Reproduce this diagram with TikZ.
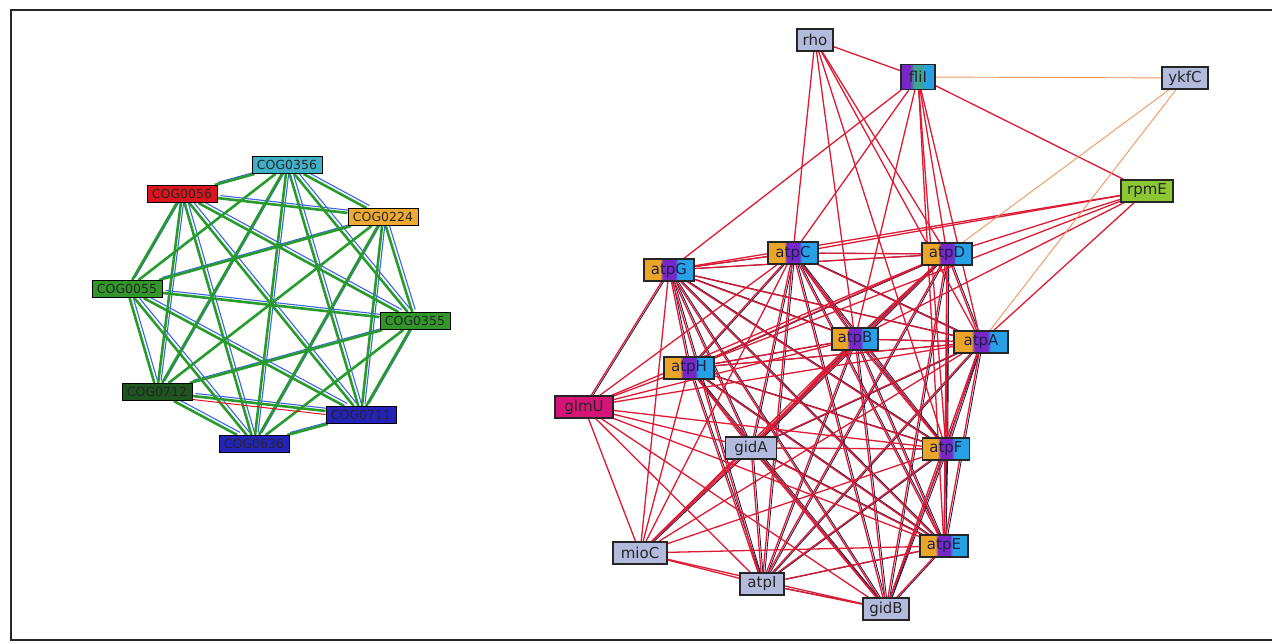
\documentclass[tikz,border=0pt]{standalone}
\usepackage{fontspec}
\setsansfont{DejaVu Sans}
\usetikzlibrary{backgrounds}

\definecolor{cogcyan}{RGB}{64,176,200}
\definecolor{cogred}{RGB}{220,20,30}
\definecolor{cogorange}{RGB}{240,170,50}
\definecolor{coggreen}{RGB}{50,150,40}
\definecolor{cogdark}{RGB}{30,85,30}
\definecolor{cogblue}{RGB}{35,35,185}
\definecolor{greenline}{RGB}{40,155,45}
\definecolor{blueline}{RGB}{60,100,230}
\definecolor{lav}{RGB}{178,186,222}
\definecolor{glmufill}{RGB}{214,20,120}
\definecolor{rpmefill}{RGB}{140,200,50}
\definecolor{atporange}{RGB}{235,165,40}
\definecolor{atppurple}{RGB}{120,40,200}
\definecolor{atpcyan}{RGB}{40,160,230}
\definecolor{fliteal}{RGB}{60,165,150}
\definecolor{netred}{RGB}{222,25,50}
\definecolor{netnavy}{RGB}{30,30,75}
\definecolor{netorange}{RGB}{240,150,90}

\pgfdeclarehorizontalshading{atpfill}{100bp}{color(0bp)=(atporange); color(41bp)=(atporange);
  color(44bp)=(atppurple); color(56bp)=(atppurple); color(59bp)=(atpcyan); color(100bp)=(atpcyan)}
\pgfdeclarehorizontalshading{flifill}{100bp}{color(0bp)=(atppurple); color(38bp)=(atppurple);
  color(44bp)=(fliteal); color(55bp)=(fliteal); color(61bp)=(atpcyan); color(100bp)=(atpcyan)}

\tikzset{
  cog/.style={draw=black, line width=1pt, minimum width=70pt, minimum height=17pt,
              inner sep=1pt, text=black!85, font=\sffamily\fontsize{12.5}{12.5}\selectfont},
  gene/.style={draw=black!85, line width=1.4pt, minimum width=36pt, minimum height=22pt,
               inner sep=2pt, fill=lav, text=black!85, font=\sffamily\fontsize{15}{15}\selectfont},
  atp/.style={gene, minimum width=50pt, shading=atpfill, text=netnavy},
  gedge/.style={draw=greenline, line width=2.6pt},
  bedge/.style={draw=blueline, line width=1.1pt, transform canvas={shift={(3pt,2.5pt)}}},
  redge/.style={draw=netred, line width=1.3pt},
  nedge/.style={draw=netnavy, line width=0.9pt, transform canvas={xshift=1.8pt}},
  oedge/.style={draw=netorange, line width=0.9pt},
}

\begin{document}
\begin{tikzpicture}[x=1pt, y=-1pt]
\useasboundingbox (0,0) rectangle (1272,644);
\draw[line width=2.4pt, black!85] (1272,10) -- (11,10) -- (11,640) -- (1272,640);

% COG network
\node[cog, fill=cogcyan] (c356) at (287,165) {COG0356};
\node[cog, fill=cogred] (c056) at (182,194) {COG0056};
\node[cog, fill=cogorange] (c224) at (383,217) {COG0224};
\node[cog, fill=coggreen] (c055) at (127,289) {COG0055};
\node[cog, fill=coggreen] (c355) at (415,321) {COG0355};
\node[cog, fill=cogdark] (c712) at (157,392) {COG0712};
\node[cog, fill=cogblue] (c711) at (361,415) {COG0711};
\node[cog, fill=cogblue] (c636) at (254,444) {COG0636};

% gene network
\node[gene] (rho) at (815,40) {rho};
\node[gene, minimum width=34pt, minimum height=25pt, shading=flifill] (fliI) at (918,77) {fliI};
\node[gene, minimum width=46pt] (ykfC) at (1185,78) {ykfC};
\node[gene, minimum width=52pt, fill=rpmefill] (rpmE) at (1147,191) {rpmE};
\node[atp] (atpG) at (669,270) {atpG};
\node[atp] (atpC) at (793,253) {atpC};
\node[atp] (atpD) at (947,254) {atpD};
\node[atp, minimum width=46pt] (atpB) at (855,339) {atpB};
\node[atp, minimum width=54pt] (atpA) at (981,342) {atpA};
\node[atp] (atpH) at (689,368) {atpH};
\node[gene, minimum width=58pt, fill=glmufill] (glmU) at (584,407) {glmU};
\node[gene, minimum width=51pt] (gidA) at (751,448) {gidA};
\node[atp, minimum width=47pt] (atpF) at (946,449) {atpF};
\node[gene, minimum width=54pt] (mioC) at (640,553) {mioC};
\node[atp, minimum width=48pt] (atpE) at (944,546) {atpE};
\node[gene, minimum width=44pt] (atpI) at (762,584) {atpI};
\node[gene, minimum width=46pt] (gidB) at (886,609) {gidB};

\begin{scope}[on background layer]
  \foreach \a [count=\i] in {c356,c056,c224,c055,c355,c712,c711,c636}
    \foreach \b [count=\j] in {c356,c056,c224,c055,c355,c712,c711,c636}
      {\ifnum\j>\i \draw[bedge] (\a) -- (\b); \fi}
  \foreach \a [count=\i] in {c356,c056,c224,c055,c355,c712,c711,c636}
    \foreach \b [count=\j] in {c356,c056,c224,c055,c355,c712,c711,c636}
      {\ifnum\j>\i \draw[gedge] (\a) -- (\b); \fi}
  \draw[draw=cogred, line width=1pt, transform canvas={yshift=-3.5pt}] (c712) -- (c711);

  \foreach \a [count=\i] in {atpG,atpC,atpD,atpB,atpA,atpH,atpF,atpE,atpI,gidA,gidB}
    \foreach \b [count=\j] in {atpG,atpC,atpD,atpB,atpA,atpH,atpF,atpE,atpI,gidA,gidB}
      {\ifnum\j>\i \draw[nedge] (\a) -- (\b); \fi}
  \draw[nedge] (glmU) -- (atpG);
  \draw[nedge] (mioC) -- (gidA);
  \foreach \a [count=\i] in {atpG,atpC,atpD,atpB,atpA,atpH,atpF,atpE,atpI,gidA,gidB,glmU,mioC}
    \foreach \b [count=\j] in {atpG,atpC,atpD,atpB,atpA,atpH,atpF,atpE,atpI,gidA,gidB,glmU,mioC}
      {\ifnum\j>\i \draw[redge] (\a) -- (\b); \fi}
  \foreach \b in {fliI,atpC,atpB,atpD,atpA,atpF}
    \draw[redge] (rho) -- (\b);
  \foreach \b in {atpG,atpC,atpB,atpD,atpA,atpF,atpE,rpmE}
    \draw[redge] (fliI) -- (\b);
  \foreach \b in {atpG,atpC,atpD,atpB,atpH,atpA}
    \draw[redge] (rpmE) -- (\b);
  \foreach \b in {fliI,atpD,atpA}
    \draw[oedge] (ykfC) -- (\b);
\end{scope}
\end{tikzpicture}
\end{document}
